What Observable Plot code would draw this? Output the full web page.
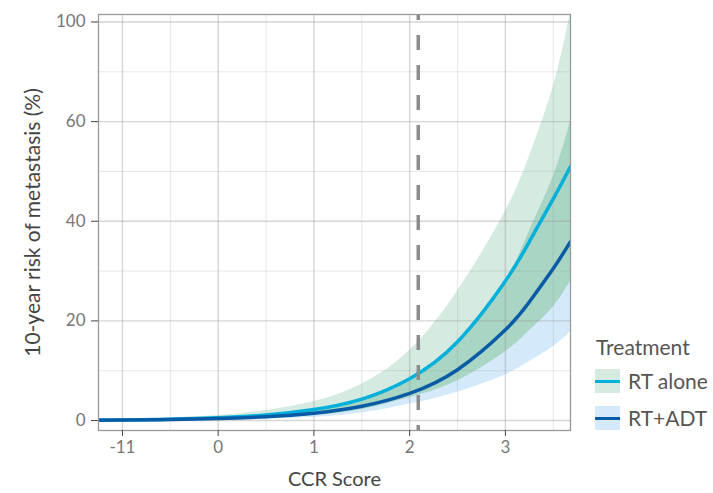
<!DOCTYPE html>
<html>
<head>
<meta charset="utf-8">
<script src="https://cdn.jsdelivr.net/npm/d3@7"></script>
<script src="https://cdn.jsdelivr.net/npm/@observablehq/plot@0.6"></script>
<style>
  body { margin: 0; background: #fff; font-family: Lato, "Open Sans", sans-serif; }
  #wrap { position: relative; width: 713px; height: 493px; }
  .lg { position: absolute; color: #555; font-size: 21px; line-height: 24px; white-space: nowrap; }
  .key { position: absolute; width: 25px; height: 24px; }
  .key i { position: absolute; left: 0; right: 0; top: 10.5px; height: 3px; }
</style>
</head>
<body>
<div id="wrap"></div>
<script>
// Data
const ccr       = [-1.25, -1, -0.5, 0, 0.5, 1, 1.5, 2, 2.5, 3, 3.25, 3.5, 3.68];
const rtAlone   = [0.095, 0.13, 0.27, 0.55, 1.1, 2.2, 4.3, 8.4, 15.8, 28, 35.9, 44.5, 51];
const rtAloneLo = [0.05, 0.07, 0.13, 0.25, 0.5, 1.0, 2.2, 4.6, 8.0, 13.8, 18, 22.8, 28];
const rtAloneHi = [0.22, 0.3, 0.55, 1.0, 2.0, 3.8, 7.3, 14.1, 26, 42, 53, 67, 82];
const rtAdt     = [0.073, 0.1, 0.2, 0.39, 0.76, 1.48, 2.86, 5.45, 10.2, 18.2, 23.8, 30.5, 35.9];
const rtAdtLo   = [0.03, 0.04, 0.08, 0.15, 0.3, 0.65, 1.5, 3.3, 5.7, 9.2, 11.8, 14.8, 17.8];
const rtAdtHi   = [0.09, 0.12, 0.25, 0.5, 1.0, 2.0, 4.1, 8.2, 15.2, 28, 38, 49, 60];
const cutoff = 2.09;

const xTickValues = [-1, 0, 1, 2, 3];
const xTickLabels = ["-11", "0", "1", "2", "3"];
const xMinor = [-0.5, 0.5, 1.5, 2.5, 3.5];
const yTickValues = [0, 20, 40, 60, 80];
const yTickLabels = ["0", "20", "40", "60", "100"];
const yMinor = [10, 30, 50, 70];

const series = ["RT alone", "RT+ADT"];

const rows = ccr.map((x, i) => ({
  x, a: rtAlone[i], aLo: rtAloneLo[i], aHi: rtAloneHi[i],
  d: rtAdt[i], dLo: rtAdtLo[i], dHi: rtAdtHi[i],
  oLo: Math.max(rtAloneLo[i], rtAdtLo[i]), oHi: Math.min(rtAloneHi[i], rtAdtHi[i])
}));

const cGreenBand = "#d5ebe2", cBlueBand = "#d4eafa", cOverlap = "#a8d5c4";
const cAlone = "#00b0da", cAdt = "#0a5ba6";
const font = "Lato, 'Open Sans', sans-serif";

const chart = Plot.plot({
  width: 713, height: 493,
  marginLeft: 98, marginRight: 143, marginTop: 14, marginBottom: 63,
  style: { fontFamily: font, background: "#fff" },
  x: { domain: [-1.25, 3.68] },
  y: { domain: [-2, 81.5] },
  marks: [
    Plot.areaY(rows, { x: "x", y1: "aLo", y2: "aHi", fill: cGreenBand, curve: "natural", clip: true }),
    Plot.areaY(rows, { x: "x", y1: "dLo", y2: "dHi", fill: cBlueBand, curve: "natural", clip: true }),
    Plot.areaY(rows, { x: "x", y1: "oLo", y2: "oHi", fill: cOverlap, curve: "natural", clip: true }),
    Plot.gridX(xMinor, { stroke: "#999", strokeOpacity: 0.3, strokeWidth: 0.8 }),
    Plot.gridY(yMinor, { stroke: "#999", strokeOpacity: 0.3, strokeWidth: 0.8 }),
    Plot.gridX(xTickValues, { stroke: "#999", strokeOpacity: 0.4, strokeWidth: 1.4 }),
    Plot.gridY(yTickValues, { stroke: "#999", strokeOpacity: 0.4, strokeWidth: 1.4 }),
    Plot.lineY(rows, { x: "x", y: "a", stroke: cAlone, strokeWidth: 3.5, curve: "natural", clip: true }),
    Plot.lineY(rows, { x: "x", y: "d", stroke: cAdt, strokeWidth: 3.5, curve: "natural", clip: true }),
    Plot.ruleX([cutoff], { stroke: "#8c8c8c", strokeWidth: 3.5, strokeDasharray: "15,15", strokeDashoffset: 9 }),
    Plot.frame({ stroke: "#999", strokeWidth: 1.3 }),
    Plot.axisX(xTickValues, {
      tickFormat: (d) => xTickLabels[xTickValues.indexOf(d)],
      tickSize: 6, tickPadding: 4, stroke: "#444", fill: "#777", fontSize: 17, label: null
    }),
    Plot.axisY(yTickValues, {
      tickFormat: (d) => yTickLabels[yTickValues.indexOf(d)],
      tickSize: 7, tickPadding: 6, stroke: "#444", fill: "#777", fontSize: 17, label: null
    }),
    Plot.text(["10-year risk of metastasis (%)"], {
      frameAnchor: "left", dx: -65, rotate: -90, fontSize: 21, fill: "#444", textAnchor: "middle"
    }),
    Plot.text(["CCR Score"], {
      frameAnchor: "bottom", dy: 55, fontSize: 20, fill: "#444", textAnchor: "middle"
    })
  ]
});

const wrap = document.getElementById("wrap");
wrap.appendChild(chart);

function add(html, style, cls) {
  const el = document.createElement("div");
  el.className = cls;
  el.setAttribute("style", style);
  el.innerHTML = html;
  wrap.appendChild(el);
}
add("Treatment", "left:596px; top:335px;", "lg");
const keyTops = [369, 406];
series.forEach((s, i) => {
  add(`<i style="background:${i ? cAdt : cAlone}"></i>`,
      `left:595px; top:${keyTops[i]}px; background:${i ? cBlueBand : cGreenBand};`, "key");
  add(s, `left:628px; top:${keyTops[i]}px;`, "lg");
});
</script>
</body>
</html>
